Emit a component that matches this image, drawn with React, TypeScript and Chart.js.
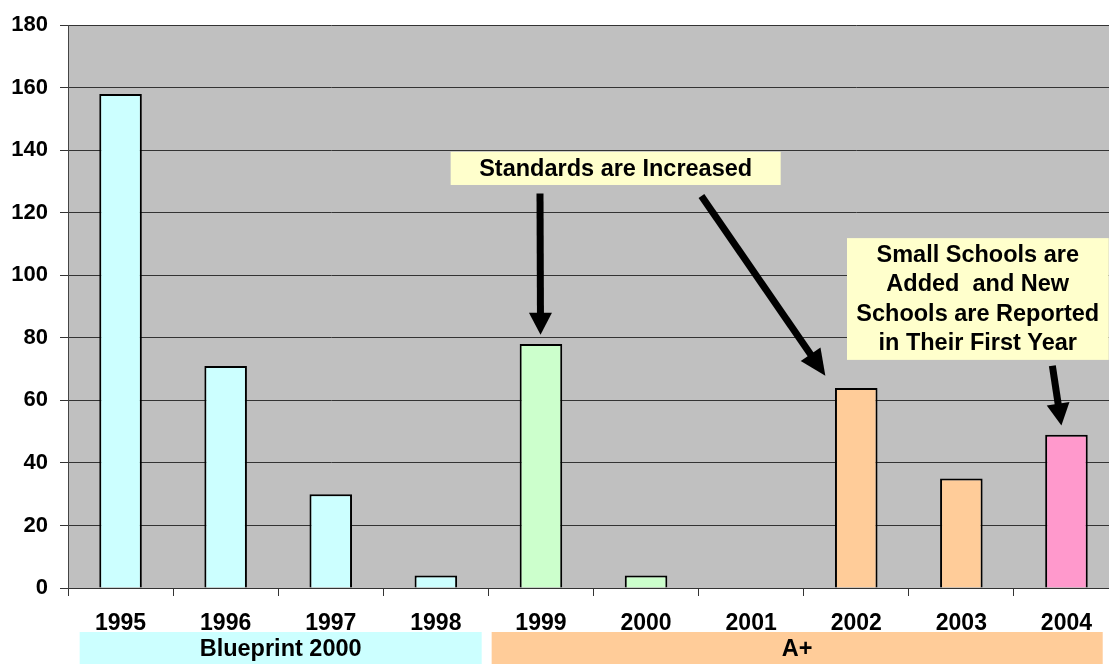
import React, { useEffect, useRef } from 'react';
import { Chart, registerables } from 'chart.js';

Chart.register(...registerables);

const years = ['1995', '1996', '1997', '1998', '1999', '2000', '2001', '2002', '2003', '2004'];
const counts = [158, 71, 30, 4, 78, 4, 0, 64, 35, 49];
const barColors = [
  '#CCFFFF', '#CCFFFF', '#CCFFFF', '#CCFFFF',
  '#CCFFCC', '#CCFFCC', '#CCFFCC',
  '#FFCC99', '#FFCC99',
  '#FF99CC',
];
const groupLabels = ['Blueprint 2000', 'A+'];
const groupColors = ['#CCFFFF', '#FFCC99'];
const noteStandards = 'Standards are Increased';
const noteSmall = ['Small Schools are', 'Added  and New', 'Schools are Reported', 'in Their First Year'];

const FONT = '"Liberation Sans", Arial, Helvetica, sans-serif';
const BOLD_NOTE = `bold 23.5px ${FONT}`;

function drawArrow(
  ctx: CanvasRenderingContext2D,
  x1: number, y1: number, x2: number, y2: number,
  headLen = 23, headW = 23, lw = 7,
) {
  const ang = Math.atan2(y2 - y1, x2 - x1);
  const c = Math.cos(ang), s = Math.sin(ang);
  const bx = x2 - headLen * c, by = y2 - headLen * s;
  ctx.save();
  ctx.strokeStyle = '#000';
  ctx.lineWidth = lw;
  ctx.lineCap = 'butt';
  ctx.beginPath();
  ctx.moveTo(x1, y1);
  ctx.lineTo(bx + 2 * c, by + 2 * s);
  ctx.stroke();
  ctx.fillStyle = '#000';
  ctx.beginPath();
  ctx.moveTo(x2, y2);
  ctx.lineTo(bx + (headW / 2) * s, by - (headW / 2) * c);
  ctx.lineTo(bx - (headW / 2) * s, by + (headW / 2) * c);
  ctx.closePath();
  ctx.fill();
  ctx.restore();
}

const decorPlugin = {
  id: 'decor',
  beforeDraw(chart: any) {
    const { ctx, chartArea, width, height } = chart;
    ctx.save();
    ctx.fillStyle = '#FFFFFF';
    ctx.fillRect(0, 0, width, height);
    ctx.fillStyle = '#C0C0C0';
    ctx.fillRect(chartArea.left, chartArea.top, chartArea.right - chartArea.left, chartArea.bottom - chartArea.top);
    ctx.restore();
  },
  afterDraw(chart: any) {
    const { ctx, chartArea, height } = chart;
    const xs = chart.scales.x;
    const ys = chart.scales.y;
    const w = (xs.right - xs.left) / years.length;
    const ux = (u: number) => xs.left + u * w;
    const vy = (v: number) => ys.getPixelForValue(v);

    ctx.save();
    // group bands under the axis
    const bandTop = chartArea.bottom + 44;
    const bands = [
      [0.111, 3.936],
      [4.031, 9.845],
    ];
    bands.forEach((b, i) => {
      const x0 = ux(b[0]);
      const x1 = ux(b[1]);
      ctx.fillStyle = groupColors[i];
      ctx.fillRect(x0, bandTop, x1 - x0, height - bandTop);
      ctx.fillStyle = '#000';
      ctx.font = BOLD_NOTE;
      ctx.textAlign = 'center';
      ctx.textBaseline = 'middle';
      ctx.fillText(groupLabels[i], (x0 + x1) / 2, bandTop + 17.5);
    });

    // note 1 box
    ctx.fillStyle = '#FFFFCC';
    const b1x0 = ux(3.641), b1x1 = ux(6.781), b1y0 = vy(139.5), b1y1 = vy(128.9);
    ctx.fillRect(b1x0, b1y0, b1x1 - b1x0, b1y1 - b1y0);
    ctx.fillStyle = '#000';
    ctx.font = BOLD_NOTE;
    ctx.textAlign = 'center';
    ctx.textBaseline = 'middle';
    ctx.fillText(noteStandards, (b1x0 + b1x1) / 2, (b1y0 + b1y1) / 2 + 1);

    // note 2 box
    ctx.fillStyle = '#FFFFCC';
    const b2x0 = ux(7.412), b2x1 = ux(9.902), b2y0 = vy(111.9), b2y1 = vy(72.96);
    ctx.fillRect(b2x0, b2y0, b2x1 - b2x0, b2y1 - b2y0);
    ctx.fillStyle = '#000';
    const tcx = ux(8.656);
    noteSmall.forEach((line, i) => {
      ctx.fillText(line, tcx, b2y0 + 17.5 + i * 29.2);
    });

    // arrows
    drawArrow(ctx, ux(4.491), vy(126.2), ux(4.496), vy(81.0), 22, 23);
    drawArrow(ctx, ux(6.027), vy(125.4), ux(7.206), vy(67.9), 26, 24);
    drawArrow(ctx, ux(9.366), vy(71.1), ux(9.452), vy(52.0), 22, 23);
    ctx.restore();
  },
};

export default function App() {
  const canvasRef = useRef<HTMLCanvasElement | null>(null);

  useEffect(() => {
    const canvas = canvasRef.current;
    if (!canvas) return;
    const chart = new Chart(canvas, {
      type: 'bar',
      data: {
        labels: years,
        datasets: [
          {
            data: counts,
            backgroundColor: barColors,
            borderColor: '#000000',
            borderWidth: 2,
            barPercentage: 0.405,
            categoryPercentage: 1,
          },
        ],
      },
      options: {
        responsive: false,
        animation: false,
        devicePixelRatio: 1,
        layout: { padding: { left: 0, right: 0, top: 24, bottom: 0 } },
        plugins: {
          legend: { display: false },
          tooltip: { enabled: false },
          title: { display: false },
        },
        scales: {
          x: {
            grid: {
              display: true,
              drawOnChartArea: false,
              drawTicks: true,
              tickLength: 8,
              offset: true,
              color: '#333333',
            },
            border: { display: true, color: '#333333', width: 1 },
            ticks: {
              color: '#000000',
              font: { family: FONT, size: 23, weight: 'bold' },
              padding: 14,
              maxRotation: 0,
              autoSkip: false,
            },
            afterFit(scale: any) {
              scale.height = 76;
            },
          },
          y: {
            min: 0,
            max: 180,
            grid: {
              color: '#333333',
              drawTicks: true,
              tickLength: 8,
            },
            border: { display: true, color: '#444444', width: 1 },
            ticks: {
              stepSize: 20,
              color: '#000000',
              font: { family: FONT, size: 22, weight: 'bold' },
              padding: 12,
            },
            afterFit(scale: any) {
              scale.width = 68;
            },
          },
        },
      },
      plugins: [decorPlugin],
    });
    return () => chart.destroy();
  }, []);

  return (
    <div
      style={{
        position: 'fixed',
        left: 0,
        top: 0,
        width: 1109,
        height: 664,
        overflow: 'hidden',
        background: '#fff',
      }}
    >
      <canvas ref={canvasRef} width={1119} height={664} style={{ display: 'block', width: 1119, height: 664 }} />
    </div>
  );
}
